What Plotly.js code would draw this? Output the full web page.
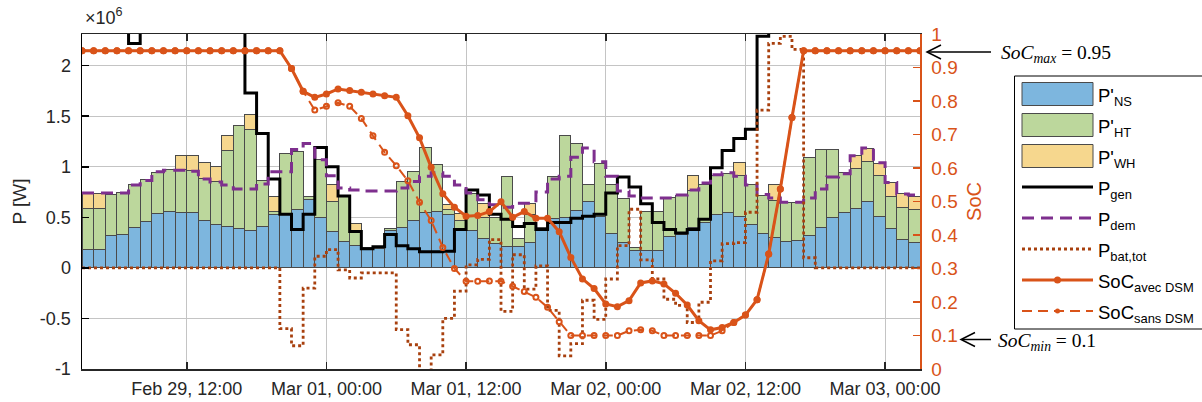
<!DOCTYPE html>
<html><head><meta charset="utf-8">
<script src="https://cdn.plot.ly/plotly-3.0.1.min.js"></script>
<style>html,body{margin:0;padding:0;background:#fff}</style>
</head><body><div id="chart" style="width:1202px;height:402px"></div>
<script>
// ---------- data (P in MW, i.e. ×10^6 W) ----------
const startUTC = Date.UTC(2024, 1, 29, 3, 0, 0);   // Feb 29, 03:00
const P_NS = [0.18,0.18,0.32,0.33,0.40,0.46,0.54,0.56,0.55,0.55,0.47,0.43,0.41,0.39,0.37,0.41,0.53,0.53,0.58,0.68,
  0.50,0.36,0.26,0.22,0.18,0.19,0.37,0.40,0.47,0.55,0.56,0.53,0.37,0.37,0.29,0.24,0.21,0.21,0.25,0.37,
  0.49,0.50,0.57,0.66,0.51,0.34,0.25,0.17,0.17,0.17,0.31,0.33,0.40,0.45,0.53,0.55,0.51,0.43,0.34,0.30,
  0.26,0.27,0.32,0.40,0.50,0.55,0.59,0.66,0.51,0.39,0.28,0.25];
const P_HT = [0.41,0.41,0.41,0.42,0.42,0.41,0.40,0.41,0.42,0.41,0.41,0.42,0.755,1.02,1.00,0.45,0.03,0.60,0.57,0.03,
  0.57,0.30,0.45,0.15,0.02,0.02,0.02,0.45,0.48,0.64,0.46,0.05,0.10,0.37,0.21,0.26,0.69,0.08,0.28,0.03,
  0.41,0.81,0.66,0.16,0.52,0.48,0.44,0.03,0.39,0.39,0.39,0.39,0.37,0.37,0.38,0.38,0.40,0.39,0.38,0.37,
  0.39,0.38,0.77,0.77,0.67,0.39,0.39,0.39,0.40,0.32,0.32,0.33];
const P_WH = [0.15,0.15,0,0,0,0,0,0,0.145,0.15,0.16,0.15,0.145,0,0.15,0,0.15,0,0,0,
  0,0.16,0,0.065,0,0,0,0,0,0,0,0.045,0.07,0,0.135,0,0,0,0.11,0,
  0,0,0,0,0,0,0,0,0,0,0,0,0.14,0,0,0,0.13,0,0,0.15,
  0,0,0,0,0,0,0.13,0.13,0.12,0.135,0.14,0.13];
const P_gen = [2.6,2.6,2.6,2.6,2.22,2.6,2.6,2.6,2.6,2.6,2.6,2.6,2.6,2.6,1.73,1.33,0.88,0.53,0.38,0.53,
  1.19,1.00,0.71,0.36,0.19,0.21,0.33,0.22,0.19,0.16,0.16,0.165,0.38,0.77,0.72,0.53,0.48,0.41,0.44,0.38,
  0.45,0.45,0.49,0.51,0.53,0.74,0.90,0.80,0.635,0.45,0.38,0.345,0.38,0.48,0.99,1.16,1.28,1.37,2.29,2.6,
  2.6,2.6,2.6,2.6,2.6,2.6,2.6,2.6,2.6,2.6,2.6,2.6];
const P_dem = [0.74,0.74,0.74,0.74,0.82,0.865,0.95,0.965,0.965,0.955,0.88,0.85,0.82,0.78,0.78,0.83,0.95,0.95,1.17,1.23,
  1.07,0.91,0.79,0.77,0.76,0.76,0.76,0.79,0.855,0.905,0.94,0.905,0.82,0.74,0.675,0.625,0.60,0.64,0.64,0.75,
  0.88,0.905,1.095,1.185,1.05,0.905,0.76,0.71,0.69,0.69,0.69,0.72,0.77,0.84,0.92,0.94,0.905,0.82,0.725,0.69,
  0.65,0.65,0.69,0.78,0.90,0.93,1.11,1.185,1.04,0.845,0.73,0.72];
const P_bat = [0,0,0,0,0,0,0,0,0,0,0,0,0,0,0,0,0,-0.60,-0.77,-0.20,
  0.115,0.18,-0.02,-0.10,-0.05,-0.05,-0.05,-0.61,-0.76,-1.02,-0.86,-0.50,-0.23,0.03,0.085,0.28,-0.43,0.13,-0.21,0.02,
  -0.42,-0.87,-0.75,-0.32,-0.51,-0.11,0.22,0.58,0.08,-0.11,-0.31,-0.37,-0.54,-0.34,0.07,0.24,0.25,0.55,1.56,2.22,
  2.29,2.16,0.10,0,0,0,0,0,0,0,0,0];
const SoC_avec = [0.95,0.95,0.95,0.95,0.95,0.95,0.95,0.95,0.95,0.95,0.95,0.95,0.95,0.95,0.95,0.95,0.95,0.95,0.897,0.829,
  0.811,0.821,0.836,0.831,0.826,0.821,0.816,0.811,0.756,0.690,0.602,0.523,0.483,0.456,0.458,0.470,0.499,0.453,0.470,0.450,
  0.450,0.410,0.333,0.269,0.240,0.194,0.186,0.204,0.257,0.263,0.254,0.226,0.191,0.144,0.117,0.124,0.139,0.161,0.207,0.343,
  0.537,0.751,0.95,0.95,0.95,0.95,0.95,0.95,0.95,0.95,0.95,0.95,0.95];
const SoC_sans = [0.95,0.95,0.95,0.95,0.95,0.95,0.95,0.95,0.95,0.95,0.95,0.95,0.95,0.95,0.95,0.95,0.95,0.95,0.897,0.829,
  0.773,0.784,0.795,0.784,0.748,0.696,0.647,0.607,0.562,0.498,0.443,0.363,0.300,0.262,0.262,0.263,0.262,0.247,0.231,0.214,
  0.184,0.141,0.100,0.100,0.100,0.100,0.100,0.114,0.117,0.114,0.100,0.100,0.100,0.100,0.100,0.114,0.139,0.161,0.207,0.343,
  0.537,0.751,0.95,0.95,0.95,0.95,0.95,0.95,0.95,0.95,0.95,0.95,0.95];
const xTickVals = ['2024-02-29 12:00','2024-03-01 00:00','2024-03-01 12:00','2024-03-02 00:00','2024-03-02 12:00','2024-03-03 00:00'];
const xTickText = ['Feb 29, 12:00','Mar 01, 00:00','Mar 01, 12:00','Mar 02, 00:00','Mar 02, 12:00','Mar 03, 00:00'];
const yTickVals = [-1,-0.5,0,0.5,1,1.5,2];
const yTickText = ['-1','-0.5','0','0.5','1','1.5','2'];
const y2TickVals = [0,0.1,0.2,0.3,0.4,0.5,0.6,0.7,0.8,0.9,1];
const y2TickText = ['0','0.1','0.2','0.3','0.4','0.5','0.6','0.7','0.8','0.9','1'];

// ---------- helpers ----------
const HOUR = 3600000;
function tStr(h){ return new Date(startUTC + h*HOUR).toISOString().slice(0,19).replace('T',' '); }
const xBar = P_NS.map((_,k)=>tStr(k+0.5));
const xEdge = Array.from({length:P_NS.length+1},(_,k)=>tStr(k));
const stair = a => a.concat([a[a.length-1]]);
const nz = a => a.map(v => v === 0 ? null : v);

const C_NS='#7DB6DE', C_HT='#BCD79C', C_WH='#F6D78E', C_EDGE='#4a4a4a';
const C_DEM='#7E2F8E', C_BAT='#A8400E', C_SOC='#D95319';
const FONT='Liberation Sans, Arial, Helvetica, sans-serif';

const traces = [
  {type:'bar', x:xBar, y:P_NS, width:HOUR, marker:{color:C_NS, line:{color:C_EDGE,width:1}}, yaxis:'y', hoverinfo:'skip'},
  {type:'bar', x:xBar, y:nz(P_HT), width:HOUR, marker:{color:C_HT, line:{color:C_EDGE,width:1}}, yaxis:'y', hoverinfo:'skip'},
  {type:'bar', x:xBar, y:nz(P_WH), width:HOUR, marker:{color:C_WH, line:{color:C_EDGE,width:1}}, yaxis:'y', hoverinfo:'skip'},
  {type:'scatter', mode:'lines', x:xEdge, y:stair(P_gen), line:{shape:'hv', color:'#000', width:3}, yaxis:'y'},
  {type:'scatter', mode:'lines', x:xEdge, y:stair(P_dem), line:{shape:'hv', color:C_DEM, width:3, dash:'12px,7px'}, yaxis:'y'},
  {type:'scatter', mode:'lines', x:xEdge, y:stair(P_bat), line:{shape:'hv', color:C_BAT, width:2.8, dash:'dot'}, yaxis:'y'},
  {type:'scatter', mode:'lines+markers', x:xEdge, y:SoC_sans, line:{color:C_SOC, width:2, dash:'10px,6px'},
    marker:{symbol:'circle-open', size:5, color:C_SOC, line:{width:2, color:C_SOC}}, yaxis:'y2'},
  {type:'scatter', mode:'lines+markers', x:xEdge, y:SoC_avec, line:{color:C_SOC, width:3},
    marker:{symbol:'circle', size:7, color:C_SOC}, yaxis:'y2'}
];

// pixel -> paper helpers for legend/annotation decoration
const L=82, R=920, T=34, B=369;
const X = px => (px-L)/(R-L);
const Y = py => (B-py)/(B-T);

const shapes = [];
const annotations = [];
// legend box
shapes.push({type:'rect', xref:'paper', yref:'paper', x0:X(1014.5), x1:X(1230), y0:Y(329), y1:Y(76),
  line:{color:'#000', width:1}, fillcolor:'#fff', layer:'above'});
const legItems = [
  {kind:'bar', color:C_NS, yc:94,  text:"P'<sub>NS</sub>"},
  {kind:'bar', color:C_HT, yc:125, text:"P'<sub>HT</sub>"},
  {kind:'bar', color:C_WH, yc:156, text:"P'<sub>WH</sub>"},
  {kind:'line', color:'#000', width:3, dash:'solid', yc:187, text:"P<sub>gen</sub>"},
  {kind:'line', color:C_DEM, width:3, dash:'12px,7px', yc:218, text:"P<sub>dem</sub>"},
  {kind:'line', color:C_BAT, width:2.8, dash:'dot', yc:249, text:"P<sub>bat,tot</sub>"},
  {kind:'line', color:C_SOC, width:3, dash:'solid', marker:7, yc:280, text:"SoC<sub>avec DSM</sub>"},
  {kind:'line', color:C_SOC, width:2, dash:'10px,6px', marker:5, yc:311, text:"SoC<sub>sans DSM</sub>"}
];
legItems.forEach(it=>{
  if(it.kind==='bar'){
    shapes.push({type:'rect', xref:'paper', yref:'paper', x0:X(1022), x1:X(1093), y0:Y(it.yc+11.5), y1:Y(it.yc-11.5),
      fillcolor:it.color, line:{color:C_EDGE, width:1}, layer:'above'});
  } else {
    shapes.push({type:'line', xref:'paper', yref:'paper', x0:X(1022), x1:X(1093), y0:Y(it.yc), y1:Y(it.yc),
      line:{color:it.color, width:it.width, dash:it.dash}, layer:'above'});
    if(it.marker){
      const r=it.marker/2;
      shapes.push({type:'circle', xref:'paper', yref:'paper', x0:X(1057.5-r), x1:X(1057.5+r), y0:Y(it.yc+r), y1:Y(it.yc-r),
        fillcolor:it.color, line:{color:it.color, width:0}, layer:'above'});
    }
  }
  annotations.push({xref:'paper', yref:'paper', x:X(1096), y:Y(it.yc+3), xanchor:'left', yanchor:'middle',
    text:it.text, showarrow:false, font:{family:FONT, size:18.5, color:'#000'}});
});
// SoC max / min arrows
function arrow(tipX, tailX, yy){
  shapes.push({type:'line', xref:'paper', yref:'paper', x0:X(tailX), x1:X(tipX+1), y0:Y(yy), y1:Y(yy), line:{color:'#000', width:1.5}});
  shapes.push({type:'path', xref:'paper', yref:'paper',
    path:`M${X(tipX+14)},${Y(yy-7)} L${X(tipX)},${Y(yy)} L${X(tipX+14)},${Y(yy+7)}`, line:{color:'#000', width:1.5}});
}
arrow(927, 991, 52);
arrow(961, 991, 339.5);
annotations.push({xref:'paper', yref:'paper', x:X(999), y:Y(54), xanchor:'left', yanchor:'middle', showarrow:false,
  text:'<i>SoC</i><sub><i>max</i></sub> = 0.95', font:{family:'Liberation Serif, DejaVu Serif, serif', size:19.5, color:'#000'}});
annotations.push({xref:'paper', yref:'paper', x:X(996), y:Y(341.5), xanchor:'left', yanchor:'middle', showarrow:false,
  text:'<i>SoC</i><sub><i>min</i></sub> = 0.1', font:{family:'Liberation Serif, DejaVu Serif, serif', size:19.5, color:'#000'}});
// ×10^6 multiplier
annotations.push({xref:'paper', yref:'paper', x:X(83), y:Y(30), xanchor:'left', yanchor:'bottom', showarrow:false,
  text:'×10<sup>6</sup>', font:{family:FONT, size:18, color:'#262626'}});

const layout = {
  width:1202, height:402,
  margin:{l:L, r:1202-R, t:T, b:402-B, pad:0},
  paper_bgcolor:'#fff', plot_bgcolor:'#fff',
  barmode:'stack', showlegend:false,
  font:{family:FONT, color:'#262626'},
  xaxis:{type:'date', range:[tStr(0), tStr(P_NS.length)], tickmode:'array', tickvals:xTickVals, ticktext:xTickText,
    ticks:'inside', ticklen:7, tickwidth:1.5, tickcolor:'#262626', showline:true, linecolor:'#262626', linewidth:1.5,
    mirror:'ticks', showgrid:true, gridcolor:'#c4c4c4', gridwidth:1, zeroline:false,
    tickfont:{size:18, color:'#262626'}, ticklabelstandoff:3},
  yaxis:{range:[-1, 2.313], tickmode:'array', tickvals:yTickVals, ticktext:yTickText,
    ticks:'inside', ticklen:7, tickwidth:1.5, tickcolor:'#000', showline:true, linecolor:'#000', linewidth:1.5,
    mirror:false, showgrid:true, gridcolor:'#c4c4c4', gridwidth:1, zeroline:true, zerolinecolor:'#262626', zerolinewidth:1,
    tickfont:{size:18, color:'#262626'}, ticklabelstandoff:6,
    title:{text:'P [W]', font:{size:19, color:'#262626'}, standoff:8}},
  yaxis2:{overlaying:'y', side:'right', range:[0,1], tickmode:'array', tickvals:y2TickVals, ticktext:y2TickText,
    ticks:'inside', ticklen:7, tickwidth:1.5, tickcolor:C_SOC, showline:true, linecolor:C_SOC, linewidth:1.5,
    showgrid:false, zeroline:false, tickfont:{size:19, color:C_SOC}, ticklabelstandoff:6,
    title:{text:'SoC', font:{size:20, color:C_SOC}, standoff:10}},
  shapes:shapes, annotations:annotations
};
Plotly.newPlot('chart', traces, layout, {staticPlot:true, displayModeBar:false});
</script>
</body></html>
